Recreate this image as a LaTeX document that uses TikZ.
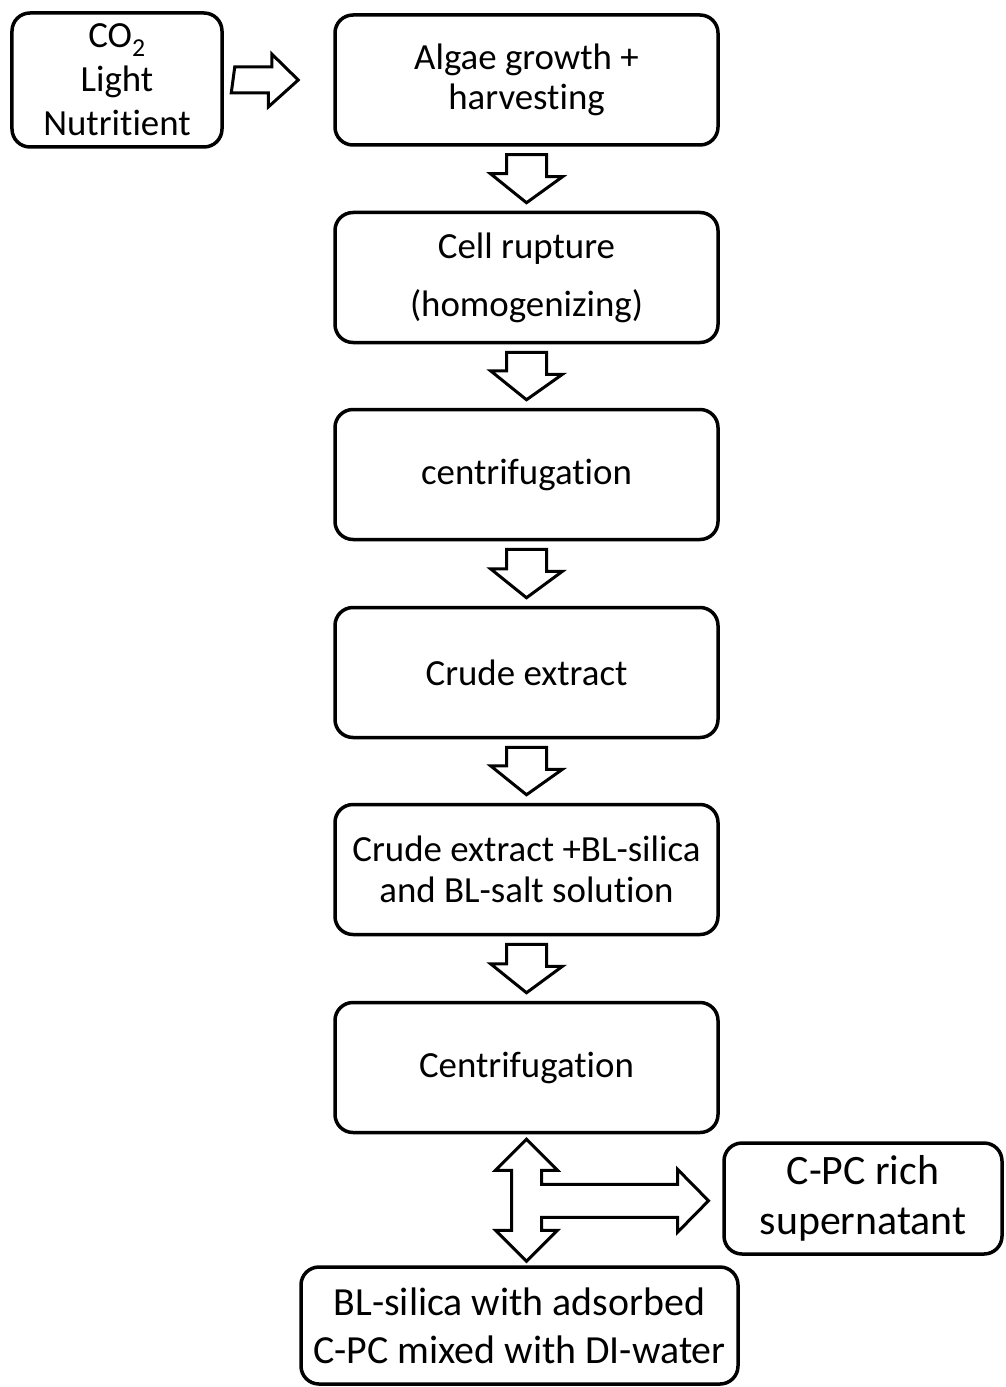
\documentclass[tikz,border=0pt]{standalone}
\usepackage{fontspec}
\setmainfont{Carlito}[Ligatures=NoCommon]
\usepackage{tikz}
\usetikzlibrary{calc,positioning}

% block arrow pointing down, from one step to the next
\newcommand{\stepdown}[2]{%
  \draw[blockarrow] ([shift={(-20,8)}]#1.south) -- ++(40,0) -- ++(0,22) -- ++(16,0)
    -- ([yshift=8bp]#2.north) -- ++(-36,-29) -- ++(16,0) -- cycle;}

\begin{document}
\begin{tikzpicture}[x=1bp,y=-1bp,line join=miter,
  box/.style={draw,line width=3.5bp,rounded corners=18bp,align=center,inner sep=0pt,
    minimum width=383bp,minimum height=130bp,font=\fontsize{37}{40}\selectfont},
  blockarrow/.style={draw,line width=3bp,fill=white,line join=miter}]
  \useasboundingbox (0,0) rectangle (1005,1387);
%%
  % Node: inputs
  \node[box,minimum width=210bp,minimum height=134bp,font=\fontsize{37}{44}\selectfont]
    (inp) at (117,80) {CO\textsubscript{2}\\Light\\Nutritient};
  % Node: steps
  \node[box] (grow) at (526.5,80) {Algae growth +\\harvesting};
  \node[box,font=\fontsize{37}{58}\selectfont] (rupt) at (526.5,277.5) {Cell rupture\\(homogenizing)};
  \node[box] (cent) at (526.5,474.5) {centrifugation};
  \node[box] (crude) at (526.5,672.5) {Crude extract};
  \node[box,font=\fontsize{37}{41}\selectfont] (mix) at (526.5,869.5) {Crude extract +BL-silica\\and BL-salt solution};
  \node[box] (cent2) at (526.5,1067.5) {Centrifugation};
  % Node: products
  \node[box,minimum width=278bp,minimum height=111bp,font=\fontsize{42}{50}\selectfont]
    (super) at (863,1198.5) {C-PC rich\\supernatant};
  \node[box,minimum width=437bp,minimum height=117bp,font=\fontsize{40}{48}\selectfont]
    (silica) at (519.5,1325.5) {BL-silica with adsorbed\\C-PC mixed with DI-water};
%
  % Edge: inputs -> grow
  \draw[blockarrow] ([shift={(11,-13)}]inp.east) -- ++(37,0) -- ++(0,-13)
    -- ([xshift=-35bp]grow.west) -- ++(-30,27) -- ++(0,-14) -- ++(-37,0) -- cycle;
  % Edge: steps
  \stepdown{grow}{rupt}
  \stepdown{rupt}{cent}
  \stepdown{cent}{crude}
  \stepdown{crude}{mix}
  \stepdown{mix}{cent2}
  % Edge: cent2 -> super, silica
  \draw[blockarrow] ([yshift=-5bp]cent2.south) -- ++(31,31) -- ++(-16,0) -- ++(0,14)
    -- ++(136,0) -- ++(0,-15) -- ++(31,31.5) -- ++(-31,31.5) -- ++(0,-15) -- ++(-136,0)
    -- ++(0,13) -- ++(16,0) -- ++(-31,31) -- ++(-31,-31) -- ++(16,0) -- ++(0,-60)
    -- ++(-16,0) -- cycle;
%
\end{tikzpicture}
\end{document}
